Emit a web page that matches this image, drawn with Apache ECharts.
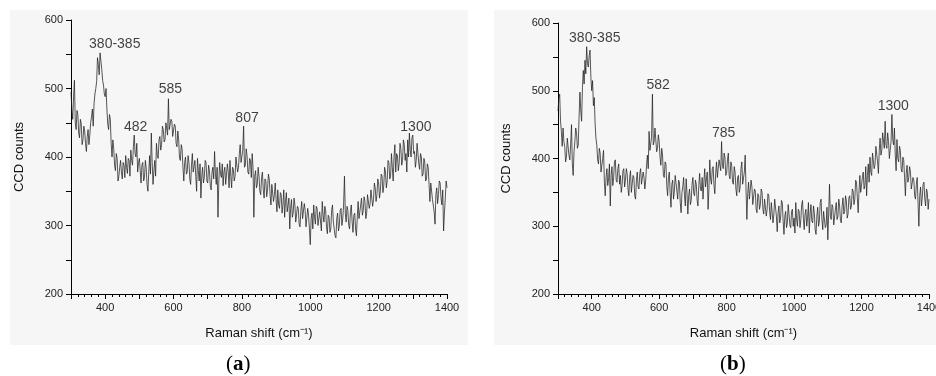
<!DOCTYPE html>
<html>
<head>
<meta charset="utf-8">
<script src="https://cdn.jsdelivr.net/npm/echarts@6/dist/echarts.min.js"></script>
<style>
  html, body { margin: 0; padding: 0; background: #fff; }
  #chart { width: 936px; height: 376px; }
</style>
</head>
<body>
<div id="chart"></div>
<script>
// Raman shift axis: 300..1400 cm-1, one reading every 2.5 cm-1
const shiftStart = 300;
const shiftStep = 2.5;

// panel (a) CCD counts (one row = 50 cm-1)
const countsA = [
  495, 470, 455, 488, 512, 450, 440, 468, 462, 435, 428, 455, 448, 418, 425, 445, 438, 420, 408, 430,
  440, 418, 432, 450, 458, 470, 445, 478, 492, 500, 510, 545, 535, 520, 552, 540, 528, 512, 505, 492,
  488, 500, 470, 448, 440, 462, 455, 420, 400, 425, 412, 388, 380, 405, 398, 365, 372, 385, 395, 378,
  368, 392, 388, 370, 402, 385, 376, 398, 395, 372, 410, 395, 388, 415, 432, 405, 400, 420, 378, 392,
  398, 380, 362, 388, 392, 365, 370, 395, 384, 360, 350, 378, 402, 375, 435, 392, 360, 380, 395, 372,
  420, 402, 398, 425, 430, 410, 418, 445, 440, 422, 425, 450, 448, 432, 485, 440, 438, 455, 452, 430,
  430, 448, 445, 420, 415, 438, 425, 398, 395, 418, 412, 385, 365, 392, 400, 375, 378, 402, 392, 368,
  360, 388, 405, 378, 380, 395, 372, 350, 398, 380, 365, 390, 340, 372, 385, 362, 370, 395, 392, 365,
  362, 388, 380, 358, 352, 378, 385, 368, 408, 375, 360, 385, 312, 365, 392, 375, 370, 390, 358, 378,
  385, 360, 362, 390, 378, 355, 395, 372, 355, 385, 382, 365, 372, 400, 398, 378, 385, 405, 418, 392,
  392, 410, 445, 385, 388, 412, 402, 378, 375, 398, 395, 370, 405, 385, 312, 372, 380, 355, 360, 385,
  372, 350, 345, 370, 378, 352, 340, 368, 365, 342, 352, 375, 368, 345, 330, 360, 358, 335, 345, 362,
  338, 320, 352, 330, 325, 348, 345, 318, 330, 352, 312, 335, 348, 320, 322, 340, 295, 325, 338, 312,
  318, 340, 330, 305, 305, 328, 325, 302, 298, 322, 335, 310, 310, 332, 322, 298, 300, 325, 315, 295,
  272, 310, 318, 295, 330, 312, 302, 328, 325, 300, 298, 320, 318, 292, 335, 315, 305, 328, 322, 298,
  288, 315, 312, 290, 295, 322, 330, 305, 305, 285, 282, 310, 318, 292, 300, 322, 325, 300, 310, 330,
  372, 318, 305, 328, 322, 300, 295, 320, 330, 305, 290, 315, 318, 295, 285, 312, 335, 310, 312, 330,
  340, 315, 322, 342, 335, 310, 318, 345, 345, 325, 332, 352, 350, 328, 338, 362, 355, 335, 345, 368,
  362, 340, 350, 375, 372, 348, 358, 385, 378, 355, 365, 395, 392, 368, 372, 405, 385, 365, 400, 418,
  378, 405, 402, 380, 390, 420, 412, 388, 395, 425, 418, 395, 405, 378, 425, 400, 435, 410, 400, 428,
  432, 405, 408, 385, 395, 420, 418, 390, 382, 405, 400, 372, 375, 398, 392, 365, 368, 390, 385, 360,
  335, 362, 360, 338, 340, 320, 302, 345, 355, 332, 345, 365, 362, 340, 330, 352, 292, 318, 340, 365,
  355
];

// panel (b) CCD counts
const countsB = [
  470, 488, 495, 455, 440, 418, 445, 425, 418, 395, 402, 430, 428, 405, 398, 420, 450, 392, 375, 410,
  425, 445, 438, 415, 420, 462, 498, 470, 455, 505, 530, 510, 545, 525, 565, 540, 535, 552, 560, 520,
  500, 515, 478, 490, 452, 430, 420, 398, 392, 415, 408, 380, 378, 400, 412, 365, 345, 372, 385, 360,
  370, 392, 330, 375, 388, 360, 372, 395, 398, 368, 365, 385, 392, 362, 375, 350, 360, 382, 385, 358,
  368, 385, 378, 355, 345, 372, 382, 350, 352, 375, 372, 345, 340, 368, 380, 358, 355, 378, 385, 362,
  360, 380, 372, 355, 368, 390, 405, 385, 440, 412, 410, 432, 495, 420, 425, 445, 445, 410, 415, 435,
  425, 402, 390, 415, 405, 375, 372, 395, 392, 360, 345, 372, 380, 350, 328, 362, 368, 340, 352, 375,
  375, 352, 340, 368, 365, 335, 320, 350, 358, 372, 345, 330, 370, 348, 318, 345, 355, 332, 338, 362,
  372, 348, 345, 368, 362, 338, 330, 360, 378, 355, 352, 372, 340, 365, 385, 358, 360, 380, 325, 355,
  398, 370, 362, 385, 388, 360, 348, 378, 395, 372, 372, 398, 400, 382, 425, 390, 385, 408, 402, 375,
  378, 398, 408, 375, 370, 395, 390, 365, 362, 388, 380, 355, 345, 372, 375, 350, 358, 385, 395, 362,
  362, 380, 405, 355, 310, 348, 365, 340, 342, 368, 358, 332, 330, 355, 352, 325, 320, 348, 345, 325,
  332, 355, 350, 325, 318, 340, 342, 315, 325, 348, 345, 322, 310, 335, 335, 305, 318, 340, 338, 315,
  292, 320, 330, 305, 312, 338, 335, 308, 288, 315, 322, 298, 305, 332, 330, 302, 298, 322, 325, 300,
  312, 290, 335, 310, 300, 325, 322, 298, 310, 332, 338, 312, 295, 318, 325, 300, 312, 335, 290, 318,
  332, 308, 305, 330, 320, 295, 288, 315, 328, 300, 308, 335, 340, 310, 295, 322, 322, 298, 302, 328,
  280, 318, 362, 315, 310, 332, 328, 302, 300, 325, 335, 310, 315, 340, 330, 308, 305, 330, 342, 318,
  322, 345, 338, 312, 318, 342, 345, 325, 330, 355, 352, 332, 340, 368, 365, 342, 320, 352, 375, 350,
  352, 372, 380, 355, 360, 388, 345, 375, 392, 365, 402, 380, 375, 408, 410, 385, 392, 418, 420, 395,
  378, 412, 430, 405, 412, 438, 440, 415, 455, 420, 415, 438, 425, 400, 398, 425, 465, 428, 420, 445,
  405, 382, 428, 400, 395, 418, 412, 385, 380, 402, 398, 372, 345, 378, 390, 365, 372, 388, 380, 355,
  355, 372, 368, 345, 340, 362, 372, 335, 300, 345, 358, 330, 342, 362, 365, 340, 330, 355, 350, 325,
  340
];

// peak annotations (text, anchor in data units)
const peakTextA = ['380-385', '482', '585', '807', '1300'];
const peakShiftA = [428, 489, 591, 815, 1309];
const peakCountA = [565, 444, 499, 456, 444];

const peakTextB = ['380-385', '582', '785', '1300'];
const peakShiftB = [409, 597, 791, 1294];
const peakCountB = [578, 509, 438, 478];

const toPairs = (vals) => vals.map((v, i) => [shiftStart + i * shiftStep, v]);
const toPeaks = (txt, xs, ys) => txt.map((t, i) => [xs[i], ys[i], t]);

const font = "'Liberation Sans', Arial, sans-serif";
const serif = "'Liberation Serif', 'DejaVu Serif', serif";

const makeX = (gridIndex) => ({
  type: 'value',
  gridIndex,
  min: 300,
  max: 1400,
  interval: 100,
  name: 'Raman shift (cm\u207B\u00B9)',
  nameLocation: 'middle',
  nameGap: 33,
  nameTextStyle: { color: '#111', fontSize: 13, fontFamily: font },
  axisLine: { show: true, onZero: false, lineStyle: { color: '#000', width: 1 } },
  axisTick: { show: true, length: 5, lineStyle: { color: '#000' } },
  minorTick: { show: true, splitNumber: 5, length: 3, lineStyle: { color: '#000' } },
  splitLine: { show: false },
  axisLabel: {
    color: '#222',
    fontSize: 11,
    fontFamily: font,
    margin: 8,
    formatter: (v) => (v % 200 === 0 ? String(v) : ''),
  },
});

const makeY = (gridIndex) => ({
  type: 'value',
  gridIndex,
  min: 200,
  max: 600,
  interval: 100,
  name: 'CCD counts',
  nameLocation: 'middle',
  nameGap: 45,
  nameTextStyle: { color: '#111', fontSize: 13, fontFamily: font },
  axisLine: { show: true, lineStyle: { color: '#000', width: 1 } },
  axisTick: { show: true, length: 5, lineStyle: { color: '#000' } },
  minorTick: { show: true, splitNumber: 2, length: 5, lineStyle: { color: '#000' } },
  splitLine: { show: false },
  axisLabel: { color: '#222', fontSize: 11, fontFamily: font, margin: 8 },
});

const lineSeries = (idx, vals) => ({
  type: 'line',
  xAxisIndex: idx,
  yAxisIndex: idx,
  data: toPairs(vals),
  showSymbol: false,
  symbol: 'none',
  animation: false,
  lineStyle: { color: '#202020', width: 0.75 },
  z: 3,
});

const peakSeries = (idx, pts) => ({
  type: 'scatter',
  xAxisIndex: idx,
  yAxisIndex: idx,
  data: pts,
  symbolSize: 1,
  itemStyle: { color: 'transparent' },
  animation: false,
  silent: true,
  label: {
    show: true,
    position: 'inside',
    formatter: (p) => p.data[2],
    color: '#111',
    fontSize: 14,
    fontFamily: font,
  },
  z: 4,
});

const panelTag = (letter, x) => ({
  type: 'text',
  left: x,
  top: 354,
  style: {
    text: '{p|(}{b|' + letter + '}{p|)}',
    rich: {
      p: { fontSize: 21, fontFamily: serif, fill: '#000' },
      b: { fontSize: 21, fontWeight: 'bold', fontFamily: serif, fill: '#000' },
    },
  },
});

const chart = echarts.init(document.getElementById('chart'), null, { renderer: 'canvas' });

chart.setOption({
  backgroundColor: '#ffffff',
  animation: false,
  graphic: [
    { type: 'rect', left: 10, top: 10, shape: { width: 458, height: 335 }, style: { fill: '#f6f6f6' }, z: -10 },
    { type: 'rect', left: 494, top: 10, shape: { width: 442, height: 335 }, style: { fill: '#f6f6f6' }, z: -10 },
    panelTag('a', 226),
    panelTag('b', 720),
  ],
  grid: [
    { left: 71, top: 20, width: 376, height: 274, containLabel: false, outerBoundsMode: 'none' },
    { left: 558, top: 23, width: 371, height: 271, containLabel: false, outerBoundsMode: 'none' },
  ],
  xAxis: [makeX(0), makeX(1)],
  yAxis: [makeY(0), makeY(1)],
  series: [
    lineSeries(0, countsA),
    lineSeries(1, countsB),
    peakSeries(0, toPeaks(peakTextA, peakShiftA, peakCountA)),
    peakSeries(1, toPeaks(peakTextB, peakShiftB, peakCountB)),
  ],
});
</script>
</body>
</html>
